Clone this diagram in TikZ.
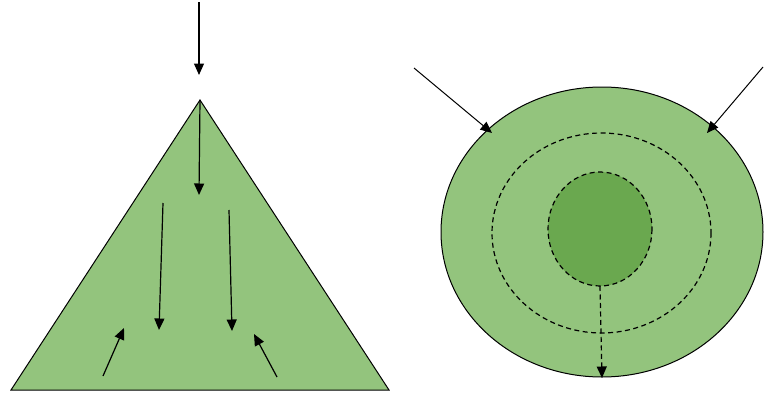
\documentclass[tikz,border=0pt]{standalone}
\usetikzlibrary{arrows.meta}
\definecolor{lightg}{HTML}{93C47D}
\definecolor{darkg}{HTML}{6AA84F}
\begin{document}
\begin{tikzpicture}[x=1pt,y=-1pt,
  tip/.style={-{Triangle[length=11.5pt,width=10pt]}},
  arr/.style={line width=1.2pt,tip},
  dsh/.style={line width=1.2pt,dash pattern=on 5pt off 3.5pt},
  greenshape/.style={draw=black,line width=1pt,fill=lightg}]
\useasboundingbox (0,0) rectangle (764,394);
% triangle
\coordinate (apex) at (200,100);
\coordinate (bl) at (11,390);
\coordinate (br) at (389,390);
\filldraw[greenshape] (apex) -- (bl) -- (br) -- cycle;
\coordinate (t0) at (199,2);
\coordinate (t1) at (199,75);
\draw[arr] (t0) -- (t1);
\coordinate (m1) at (199,195);
\draw[arr] (apex) -- (m1);
\coordinate (l0) at (163,203); \coordinate (l1) at (159,330);
\draw[arr] (l0) -- (l1);
\coordinate (r0) at (229,210); \coordinate (r1) at (232,331);
\draw[arr] (r0) -- (r1);
\coordinate (sl0) at (103,376); \coordinate (sl1) at (124,328);
\draw[arr] (sl0) -- (sl1);
\coordinate (sr0) at (277,377); \coordinate (sr1) at (254,334);
\draw[arr] (sr0) -- (sr1);
% ellipses
\coordinate (c) at (602,232);
\filldraw[greenshape] (c) ellipse [x radius=161, y radius=145];
\coordinate (cm) at (601.5,233);
\draw[dsh] (cm) ellipse [x radius=109.5, y radius=100];
\coordinate (ci) at (600,229);
\filldraw[dsh,fill=darkg] (ci) ellipse [x radius=52, y radius=57];
\coordinate (d0) at (600,286); \coordinate (d1) at (602,378);
\draw[dsh,tip] (d0) -- (d1);
\coordinate (a0) at (414,68); \coordinate (a1) at (492,133);
\draw[arr,line width=1pt] (a0) -- (a1);
\coordinate (b0) at (763,67); \coordinate (b1) at (707,133);
\draw[arr,line width=1pt] (b0) -- (b1);
\end{tikzpicture}
\end{document}
